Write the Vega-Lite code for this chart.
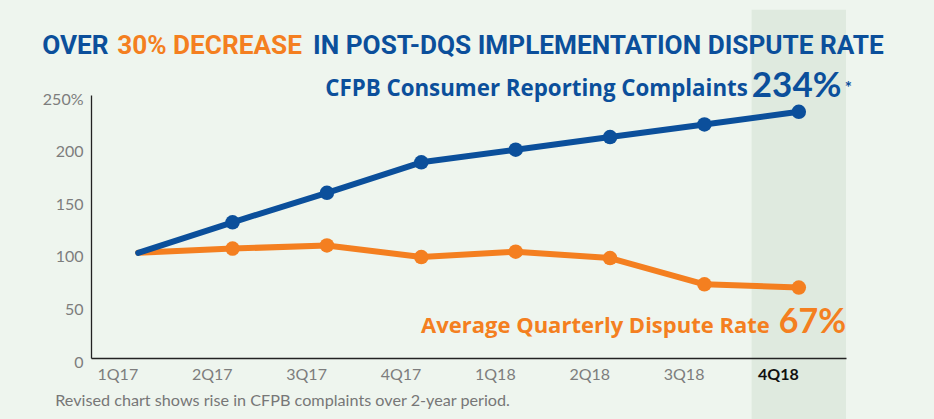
{
  "$schema": "https://vega.github.io/schema/vega-lite/v6.json",
  "width": 755,
  "height": 263,
  "autosize": "none",
  "padding": {"left": 91, "top": 95, "right": 88, "bottom": 61},
  "background": "#eef5ee",
  "config": {"view": {"stroke": null}, "font": "Lato"},
  "datasets": {
    "series": [
      {"quarter": "1Q17", "series": "Average Quarterly Dispute Rate", "value": 100},
      {"quarter": "2Q17", "series": "Average Quarterly Dispute Rate", "value": 104},
      {"quarter": "3Q17", "series": "Average Quarterly Dispute Rate", "value": 107},
      {"quarter": "4Q17", "series": "Average Quarterly Dispute Rate", "value": 96},
      {"quarter": "1Q18", "series": "Average Quarterly Dispute Rate", "value": 101},
      {"quarter": "2Q18", "series": "Average Quarterly Dispute Rate", "value": 95},
      {"quarter": "3Q18", "series": "Average Quarterly Dispute Rate", "value": 70},
      {"quarter": "4Q18", "series": "Average Quarterly Dispute Rate", "value": 67},
      {"quarter": "1Q17", "series": "CFPB Consumer Reporting Complaints", "value": 100},
      {"quarter": "2Q17", "series": "CFPB Consumer Reporting Complaints", "value": 129},
      {"quarter": "3Q17", "series": "CFPB Consumer Reporting Complaints", "value": 157},
      {"quarter": "4Q17", "series": "CFPB Consumer Reporting Complaints", "value": 186},
      {"quarter": "1Q18", "series": "CFPB Consumer Reporting Complaints", "value": 198},
      {"quarter": "2Q18", "series": "CFPB Consumer Reporting Complaints", "value": 210},
      {"quarter": "3Q18", "series": "CFPB Consumer Reporting Complaints", "value": 222},
      {"quarter": "4Q18", "series": "CFPB Consumer Reporting Complaints", "value": 234}
    ]
  },
  "layer": [
    {
      "data": {"values": [{"quarter": "4Q18"}]},
      "mark": {"type": "rect", "color": "#dfeadf"},
      "encoding": {
        "x": {"field": "quarter", "type": "nominal", "title": null,
              "scale": {"type": "band", "domain": ["1Q17","2Q17","3Q17","4Q17","1Q18","2Q18","3Q18","4Q18"], "paddingInner": 0, "paddingOuter": 0}},
        "y": {"datum": 331, "type": "quantitative", "scale": {"domain": [0, 250], "nice": false}},
        "y2": {"datum": -60}
      }
    },
    {
      "data": {"name": "series"},
      "mark": {"type": "line", "strokeWidth": 6, "strokeCap": "round", "strokeJoin": "round"},
      "encoding": {
        "x": {"field": "quarter", "type": "nominal", "title": null,
              "axis": {"labelAngle": 0, "ticks": false, "domainColor": "#222", "domainWidth": 1.3, "labelFontSize": 16, "labelPadding": 16, "zindex": 1,
                       "labelColor": {"expr": "datum.value == '4Q18' ? '#111111' : '#7d7d7d'"},
                       "labelFontWeight": {"expr": "datum.value == '4Q18' ? 'bold' : 'normal'"}}},
        "y": {"field": "value", "type": "quantitative", "title": null,
              "scale": {"domain": [0, 250], "nice": false},
              "axis": {"values": [0, 50, 100, 150, 200, 250], "grid": false, "ticks": false, "domainColor": "#222", "domainWidth": 1.3,
                       "labelColor": "#7d7d7d", "labelFontSize": 16, "labelPadding": 8, "labelOffset": 4, "zindex": 1,
                       "labelExpr": "datum.value == 250 ? '250%' : datum.label"}},
        "color": {"field": "series", "type": "nominal", "legend": null,
                  "scale": {"domain": ["Average Quarterly Dispute Rate", "CFPB Consumer Reporting Complaints"], "range": ["#f47f20", "#0b4f9b"]}}
      }
    },
    {
      "data": {"name": "series"},
      "transform": [{"filter": "datum.quarter != '1Q17'"}],
      "mark": {"type": "circle", "size": 210, "opacity": 1},
      "encoding": {
        "x": {"field": "quarter", "type": "nominal", "title": null},
        "y": {"field": "value", "type": "quantitative", "title": null, "scale": {"domain": [0, 250], "nice": false}},
        "color": {"field": "series", "type": "nominal", "legend": null}
      }
    },
    {
      "data": {"values": [{}]},
      "mark": {"type": "text", "text": "OVER", "align": "left", "baseline": "alphabetic", "font": "Roboto", "fontWeight": "bold", "fontSize": 26.2, "color": "#0b4f9b", "dx": -96},
      "encoding": {"x": {"datum": "1Q17"}, "y": {"datum": 289, "scale": {"domain": [0, 250], "nice": false}}}
    },
    {
      "data": {"values": [{}]},
      "mark": {"type": "text", "text": "30% DECREASE", "align": "left", "baseline": "alphabetic", "font": "Roboto", "fontWeight": "bold", "fontSize": 26.2, "color": "#f47f20", "dx": -21},
      "encoding": {"x": {"datum": "1Q17"}, "y": {"datum": 289, "scale": {"domain": [0, 250], "nice": false}}}
    },
    {
      "data": {"values": [{}]},
      "mark": {"type": "text", "text": "IN POST-DQS IMPLEMENTATION DISPUTE RATE", "align": "right", "baseline": "alphabetic", "font": "Roboto", "fontWeight": "bold", "fontSize": 26.2, "color": "#0b4f9b", "dx": 85},
      "encoding": {"x": {"datum": "4Q18"}, "y": {"datum": 289, "scale": {"domain": [0, 250], "nice": false}}}
    },
    {
      "data": {"values": [{}]},
      "mark": {"type": "text", "text": "CFPB Consumer Reporting Complaints", "align": "right", "baseline": "alphabetic", "font": "Open Sans", "fontWeight": "bold", "fontSize": 22.3, "color": "#0b4f9b", "dx": -51},
      "encoding": {"x": {"datum": "4Q18"}, "y": {"datum": 249, "scale": {"domain": [0, 250], "nice": false}}}
    },
    {
      "data": {"values": [{}]},
      "mark": {"type": "text", "text": "234%", "align": "left", "baseline": "alphabetic", "fontWeight": "bold", "fontSize": 35, "color": "#0b4f9b", "dx": -47},
      "encoding": {"x": {"datum": "4Q18"}, "y": {"datum": 248, "scale": {"domain": [0, 250], "nice": false}}}
    },
    {
      "data": {"values": [{}]},
      "mark": {"type": "text", "text": "*", "align": "left", "baseline": "alphabetic", "fontWeight": "bold", "fontSize": 17, "color": "#0b4f9b", "dx": 46},
      "encoding": {"x": {"datum": "4Q18"}, "y": {"datum": 251, "scale": {"domain": [0, 250], "nice": false}}}
    },
    {
      "data": {"values": [{}]},
      "mark": {"type": "text", "text": "Average Quarterly Dispute Rate", "align": "right", "baseline": "alphabetic", "font": "Open Sans", "fontWeight": "bold", "fontSize": 22, "color": "#f47f20", "dx": -29},
      "encoding": {"x": {"datum": "4Q18"}, "y": {"datum": 24, "scale": {"domain": [0, 250], "nice": false}}}
    },
    {
      "data": {"values": [{}]},
      "mark": {"type": "text", "text": "67%", "align": "left", "baseline": "alphabetic", "fontWeight": "bold", "fontSize": 34, "color": "#f47f20", "dx": -20},
      "encoding": {"x": {"datum": "4Q18"}, "y": {"datum": 24, "scale": {"domain": [0, 250], "nice": false}}}
    },
    {
      "data": {"values": [{}]},
      "mark": {"type": "text", "text": "Revised chart shows rise in CFPB complaints over 2-year period.", "align": "left", "baseline": "alphabetic", "fontSize": 16.2, "color": "#777777", "dx": -83},
      "encoding": {"x": {"datum": "1Q17"}, "y": {"datum": -45.6, "scale": {"domain": [0, 250], "nice": false}}}
    }
  ]
}
